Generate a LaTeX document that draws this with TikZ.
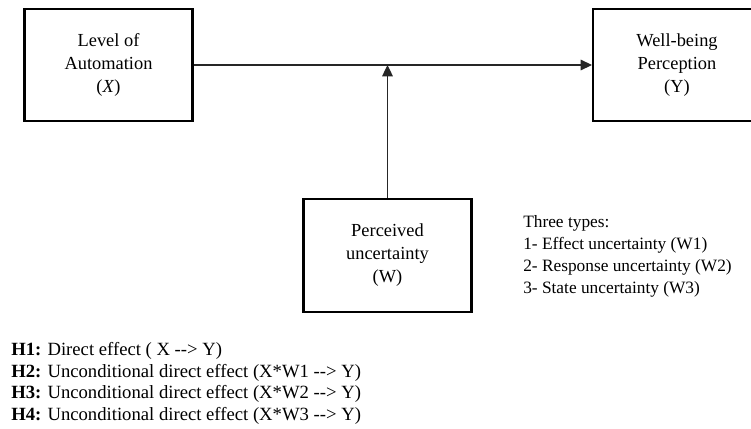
\documentclass[tikz,border=0pt]{standalone}
\usepackage{fontspec}
\setmainfont{Liberation Serif}
\usetikzlibrary{arrows.meta}
\begin{document}
\begin{tikzpicture}[x=0.75pt,y=-0.75pt,
  box/.style={draw=black,line width=1.6pt,minimum width=126pt,minimum height=84.5pt,
    align=center,inner sep=0pt,font=\fontsize{13.8}{17.25}\selectfont},
  conn/.style={draw=black!85,line width=0.9pt,-{Triangle[length=8.5pt,width=8pt]}},
  txt/.style={anchor=base west,inner sep=0pt,font=\fontsize{14}{16}\selectfont},
  typetxt/.style={txt,font=\fontsize{13}{16}\selectfont}]
\useasboundingbox (0,0) rectangle (751,429);
\clip (0,0) rectangle (751,429);
\node[box] (X) at (108.5,65) {Level of\\Automation\\(\textit{X})};
\node[box] (Y) at (677,65) {Well-being\\Perception\\(Y)};
\node[box] (W) at (387.5,255.5) {Perceived\\uncertainty\\(W)};
\draw[conn] (X.east) -- (Y.west);
\draw[conn] (W.north) -- (W.north |- X.east);
\node[typetxt] (t0) at (523,227) {Three types:};
\node[typetxt] (t1) at (523,249) {1- Effect uncertainty (W1)};
\node[typetxt] (t2) at (523,271) {2- Response uncertainty (W2)};
\node[typetxt] (t3) at (523,293) {3- State uncertainty (W3)};
\node[txt] (h1) at (11,355) {\textbf{H1:} Direct effect ( X -{}-> Y)};
\node[txt] (h2) at (11,377) {\textbf{H2:} Unconditional direct effect (X*W1 -{}-> Y)};
\node[txt] (h3) at (11,398) {\textbf{H3:} Unconditional direct effect (X*W2 -{}-> Y)};
\node[txt] (h4) at (11,420) {\textbf{H4:} Unconditional direct effect (X*W3 -{}-> Y)};
\end{tikzpicture}
\end{document}
